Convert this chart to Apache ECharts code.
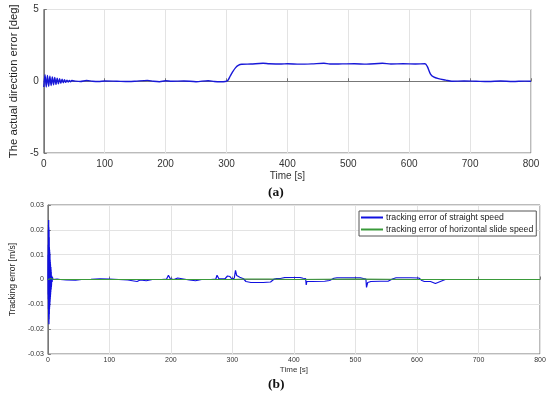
<!DOCTYPE html>
<html><head><meta charset="utf-8">
<script src="https://cdn.jsdelivr.net/npm/echarts@6/dist/echarts.min.js"></script>
<style>html,body{margin:0;padding:0;background:#fff}#c{width:550px;height:398px}</style>
</head><body><div id="c"></div>
<script>
// ---- Data (a) ----
const topTime = [0,2,4,6,8,10,12,14,16,18,20,22,24,26,28,30,32,34,36,38,40,42,44,46,
  50,60,70,80,90,100,120,140,150,170,180,190,200,210,230,250,270,280,290,298,
  302,306,310,315,320,325,340,360,370,390,400,420,440,460,470,490,510,530,556,570,590,610,626,
  630,635,640,648,660,670,690,710,730,750,770,790,800];
const topErr = [-0.4,0.45,-0.4,0.4,-0.35,0.35,-0.3,0.3,-0.25,0.26,-0.22,0.22,-0.18,0.18,-0.14,0.14,-0.11,0.11,-0.08,0.08,-0.06,0.06,-0.04,0.05,
  0.02,-0.02,0.05,0.0,-0.02,0.02,0.0,-0.02,0.0,0.06,0.0,-0.03,0.03,0.0,0.02,-0.03,0.04,-0.02,-0.04,-0.02,
  0.05,0.35,0.65,0.95,1.12,1.18,1.2,1.25,1.22,1.2,1.22,1.19,1.21,1.25,1.2,1.21,1.22,1.19,1.25,1.2,1.22,1.2,1.22,
  1.0,0.5,0.3,0.18,0.08,0.0,0.02,0.0,-0.02,0.02,-0.02,0.01,0.0];
const topTicks = [-5,0,5];

// ---- Data (b) ----
const botTime = [0,0.15,0.3,0.45,0.6,0.75,0.9,1.05,1.2,1.35,1.5,1.65,1.8,1.95,2.1,2.25,2.4,2.55,2.7,2.85,3.0,3.15,3.3,3.45,3.6,3.75,3.9,4.05,4.2,4.35,4.5,4.65,4.8,4.95,5.1,5.25,5.4,5.55,5.7,6.0,6.5,7,7.5,8,10,15,
  20,30,45,55,70,85,100,115,130,140,145,150,160,170,185,193,196,199,205,211,214,230,240,250,265,273,275,278,288,292,296,299,
  303,305,307,310,312,315,318,322,330,350,362,368,372,378,385,400,410,415,419,420,421,430,450,458,465,470,490,508,513,517,
  518,520,525,540,553,560,566,590,603,608,612,622,630,638,646,660,700,750,800];
const straightErr = [0,0.01,-0.006,0.014,-0.008,0.02,-0.012,0.022,-0.015,0.024,-0.017,0.021,-0.018,0.02,-0.016,0.017,-0.014,0.013,-0.012,0.012,-0.011,0.011,-0.01,0.01,-0.009,0.008,-0.008,0.007,-0.007,0.006,-0.006,0.005,-0.005,0.005,-0.004,0.004,-0.004,0.003,-0.003,-0.002,0.0015,-0.001,0.001,0,0.0003,0.0002,
  0,-0.0002,-0.0003,0,0.0001,0.0003,0.0002,0,-0.0002,-0.0006,-0.0008,-0.0002,-0.0005,0,0,0.0002,0.0017,0.0003,0,0.0006,0,-0.0002,-0.0005,0,0,0.0002,0.0017,0.0003,0.0003,0.0014,0.0012,0.0002,
  0.0005,0.0037,0.0016,0.0015,0.0009,0.0011,0.0003,-0.0008,-0.0012,-0.0012,-0.001,0.0002,0.0004,0.0004,0.0008,0.0008,0.0008,0.0005,0.0004,-0.0022,-0.0008,-0.0008,-0.0007,-0.0004,0.0005,0.0007,0.0007,0.0007,0.0004,0.0002,
  -0.0032,-0.0012,-0.0008,-0.0007,-0.0007,0.0002,0.0007,0.0007,0.0006,-0.0004,-0.0008,-0.0008,-0.0016,-0.0008,0,0,0,0,0];
const slideTime = [0,5,8,10,100,200,300,320,360,400,500,600,700,800];
const slideErr = [0,0.0004,-0.0002,0,0,0,0,0.0002,0.0002,0,0.0002,0,0,0];
const botTicks = [-0.03,-0.02,-0.01,0,0.01,0.02,0.03];
const xTicks = [0,100,200,300,400,500,600,700,800];

const zip = (a,b) => a.map((v,i)=>[v,b[i]]);
const FONT = 'Liberation Sans';
const gridLine = {show:true, lineStyle:{color:'#e3e3e3', width:1}};
const axLine = {show:true, lineStyle:{color:'#777', width:1}};

const chart = echarts.init(document.getElementById('c'), null, {renderer:'canvas'});
chart.setOption({
  animation:false,
  backgroundColor:'#fff',
  grid:[
    {left:36, right:19, top:9.5, height:143.5, show:true, borderColor:'#777', borderWidth:1},
    {left:32, right:10, top:205, height:149, show:true, borderColor:'#777', borderWidth:1}
  ],
  legend:{
    data:[{name:'tracking error of straight speed', icon:'rect'},{name:'tracking error of horizontal slide speed', icon:'rect'}],
    orient:'vertical', left:359, top:211, padding:[2,3,2,2], itemGap:3,
    itemWidth:22, itemHeight:2, backgroundColor:'#fff', borderColor:'#555', borderWidth:1,
    textStyle:{fontFamily:FONT, fontSize:8.7, color:'#222', padding:[0,0,0,-2]}
  },
  xAxis:[
    {gridIndex:0, type:'value', min:0, max:800, interval:100,
     axisLine:axLine, axisTick:{inside:true, length:3, lineStyle:{color:'#777'}}, splitLine:gridLine,
     axisLabel:{fontFamily:FONT, fontSize:10, color:'#333', margin:6},
     name:'Time [s]', nameLocation:'middle', nameGap:18,
     nameTextStyle:{fontFamily:FONT, fontSize:10, color:'#333'}},
    {gridIndex:1, type:'value', min:0, max:800, interval:100,
     axisLine:axLine, axisTick:{inside:true, length:3, lineStyle:{color:'#777'}}, splitLine:gridLine,
     axisLabel:{fontFamily:FONT, fontSize:7, color:'#333', margin:3},
     name:'Time [s]', nameLocation:'middle', nameGap:12,
     nameTextStyle:{fontFamily:FONT, fontSize:8, color:'#333'}}
  ],
  yAxis:[
    {gridIndex:0, type:'value', min:topTicks[0], max:topTicks[2], interval:5,
     axisLine:axLine, axisTick:{inside:true, length:3, lineStyle:{color:'#777'}}, splitLine:gridLine,
     axisLabel:{fontFamily:FONT, fontSize:10, color:'#333', margin:5},
     name:'The actual direction error [deg]', nameLocation:'middle', nameGap:11,
     nameTextStyle:{fontFamily:FONT, fontSize:11.3, color:'#222'}},
    {gridIndex:1, type:'value', min:botTicks[0], max:botTicks[6], interval:0.01,
     axisLine:axLine, axisTick:{inside:true, length:3, lineStyle:{color:'#777'}}, splitLine:gridLine,
     axisLabel:{fontFamily:FONT, fontSize:7, color:'#333', margin:4},
     name:'Tracking error [m/s]', nameLocation:'middle', nameGap:20,
     nameTextStyle:{fontFamily:FONT, fontSize:8.5, color:'#222'}}
  ],
  series:[
    {name:'direction error', type:'line', xAxisIndex:0, yAxisIndex:0, data:zip(topTime, topErr),
     symbol:'none', smooth:0.3, lineStyle:{color:'#1818d8', width:1.4}, itemStyle:{color:'#1818d8'}},
    {name:'tracking error of straight speed', type:'line', xAxisIndex:1, yAxisIndex:1, data:zip(botTime, straightErr),
     symbol:'none', lineStyle:{color:'#1010e0', width:1.2}, itemStyle:{color:'#1010e0'}},
    {name:'tracking error of horizontal slide speed', type:'line', xAxisIndex:1, yAxisIndex:1, data:zip(slideTime, slideErr),
     symbol:'none', lineStyle:{color:'#3a9a3a', width:1.2}, itemStyle:{color:'#3a9a3a'}}
  ],
  graphic:[
    {type:'text', left:268, top:186, style:{text:'(a)', font:'bold 13.5px "Liberation Serif"', fill:'#111'}},
    {type:'text', left:268, top:378, style:{text:'(b)', font:'bold 13.5px "Liberation Serif"', fill:'#111'}}
  ]
});
</script></body></html>
